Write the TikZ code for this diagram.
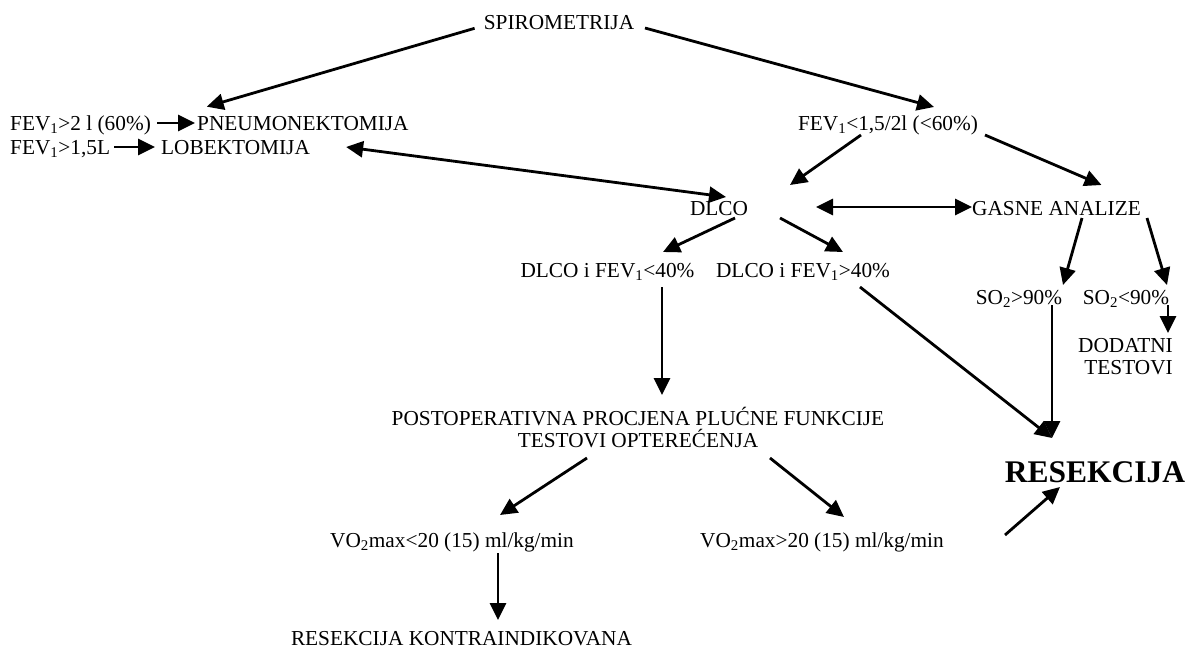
\documentclass[tikz,border=0pt]{standalone}
\usepackage{fontspec}
\setmainfont{Liberation Serif}
\usepackage{tikz}
\usetikzlibrary{arrows.meta}
\tikzset{
  arr/.style={-{Triangle[length=17pt,width=16pt]}, line width=2.8pt},
  darr/.style={{Triangle[length=17pt,width=16pt]}-{Triangle[length=17pt,width=16pt]}, line width=2.8pt},
  txt/.style={inner sep=0pt, font=\fontsize{21.3}{22}\selectfont}
}

\begin{document}
\begin{tikzpicture}[x=1pt, y=-1pt]
\useasboundingbox (0,0) rectangle (1189,648);

\node[txt, anchor=base] (spiro) at (559,29) {SPIROMETRIJA};
\node[txt, anchor=base west] (fevA) at (10,130) {FEV\textsubscript{1}>2 l (60\%)};
\node[txt, anchor=base west] (pneumo) at (197,130) {PNEUMONEKTOMIJA};
\node[txt, anchor=base west] (fevB) at (10,154) {FEV\textsubscript{1}>1,5L};
\node[txt, anchor=base west] (lobekt) at (161,154) {LOBEKTOMIJA};
\node[txt, anchor=base] (fevC) at (888,130) {FEV\textsubscript{1}<1,5/2l (<60\%)};
\node[txt, anchor=base] (dlco) at (719,215) {DLCO};
\node[txt, anchor=base west] (gasne) at (972,215) {GASNE ANALIZE};
\node[txt, anchor=base] (dlcoA) at (607.5,277) {DLCO i FEV\textsubscript{1}<40\%};
\node[txt, anchor=base] (dlcoB) at (803,277) {DLCO i FEV\textsubscript{1}>40\%};
\node[txt, anchor=base] (soA) at (1019,304) {SO\textsubscript{2}>90\%};
\node[txt, anchor=base] (soB) at (1126,304) {SO\textsubscript{2}<90\%};
\node[txt, anchor=base east, align=right] (dodatni) at (1173,374) {DODATNI\\TESTOVI};
\node[txt, anchor=base, align=center] (postop) at (638,447) {POSTOPERATIVNA PROCJENA PLUĆNE FUNKCIJE\\TESTOVI OPTEREĆENJA};
\node[txt, anchor=base, font=\fontsize{31.5}{33}\selectfont\bfseries] (resek) at (1095,482.5) {RESEKCIJA};
\node[txt, anchor=base] (voA) at (452,547) {VO\textsubscript{2}max<20 (15) ml/kg/min};
\node[txt, anchor=base] (voB) at (822,547) {VO\textsubscript{2}max>20 (15) ml/kg/min};
\node[txt, anchor=base] (kontra) at (461.5,645) {RESEKCIJA KONTRAINDIKOVANA};

\draw[arr] ([shift={(-84.4,-0.7)}]spiro.base) -- ([shift={(9.7,-23.3)}]pneumo.base west);
\draw[arr] ([shift={(86,-1)}]spiro.base) -- ([shift={(46,-23)}]fevC.base);
\draw[arr] ([shift={(6,-7)}]fevA.base east) -- ([shift={(-2,-7)}]pneumo.base west);
\draw[arr] ([shift={(4,-7)}]fevB.base east) -- ([shift={(-6,-7)}]lobekt.base west);
\draw[darr] ([shift={(36,-7)}]lobekt.base east) -- ([shift={(7,-18)}]dlco.base);
\draw[arr] ([shift={(-27,5)}]fevC.base) -- ([shift={(71,-30)}]dlco.base);
\draw[arr] ([shift={(97,5)}]fevC.base) -- ([shift={(129.5,-30)}]gasne.base west);
\draw[darr] ([shift={(97,-8)}]dlco.base) -- ([shift={(0,-8)}]gasne.base west);
\draw[arr] ([shift={(16,3)}]dlco.base) -- ([shift={(55.5,-25)}]dlcoA.base);
\draw[arr] ([shift={(61,3)}]dlco.base) -- ([shift={(40,-25)}]dlcoB.base);
\draw[arr] ([shift={(54.5,10)}]dlcoA.base) -- ([shift={(24,-52)}]postop.base);
\draw[arr] ([shift={(57,10)}]dlcoB.base) -- ([shift={(-43,-44.5)}]resek.base);
\draw[arr] ([shift={(110,3)}]gasne.base west) -- ([shift={(44,-19)}]soA.base);
\draw[arr] ([shift={(175,3)}]gasne.base west) -- ([shift={(41,-19)}]soB.base);
\draw[arr] ([shift={(42,1)}]soB.base) -- ([shift={(-5,-41)}]dodatni.base east);
\draw[arr] ([shift={(33,1)}]soA.base) -- ([shift={(-43,-44.5)}]resek.base);
\draw[arr] ([shift={(-51,11)}]postop.base) -- ([shift={(48,-32)}]voA.base);
\draw[arr] ([shift={(132,11)}]postop.base) -- ([shift={(22,-30)}]voB.base);
\draw[arr] ([shift={(46,6)}]voA.base) -- ([shift={(36.5,-25)}]kontra.base);
\draw[arr] ([shift={(183,-12)}]voB.base) -- ([shift={(-35,4.5)}]resek.base);
\end{tikzpicture}
\end{document}
